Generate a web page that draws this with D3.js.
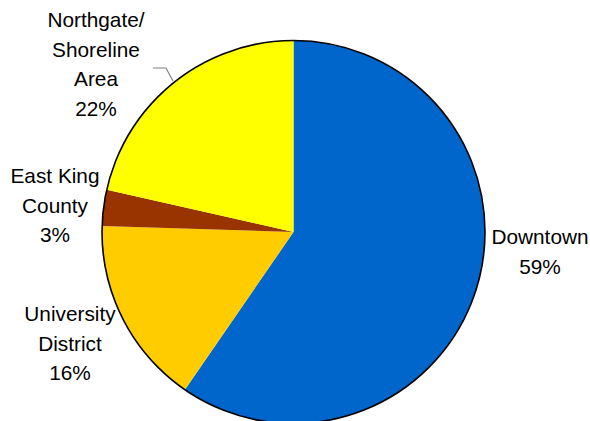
<!DOCTYPE html>
<html>
<head>
<meta charset="utf-8">
<script src="https://cdn.jsdelivr.net/npm/d3@7"></script>
<style>
  body { margin: 0; background: #fff; }
  svg { display: block; font-family: Arial, "Liberation Sans", sans-serif; }
</style>
</head>
<body>
<div id="chart"></div>
<script>
// data, clockwise from 12 o'clock
const areas = ["Downtown", "University District", "East King County", "Northgate/ Shoreline Area"];
const shares = [59.6, 15.9, 3.05, 21.45];
const pctLabels = ["59%", "16%", "3%", "22%"];
const colors = ["#0066CC", "#FFCC00", "#993300", "#FFFF00"];

// label lines (how the area names wrap)
const labelLines = [
    ["Downtown"],
    ["University", "District"],
    ["East King", "County"],
    ["Northgate/", "Shoreline", "Area"]
];
// where each label block is centred (x) and its first baseline (y)
const labelAt = [[540, 244], [70, 321], [55, 183], [96, 27]];

const W = 590, H = 421;
const cx = 293.5, cy = 232, R = 191.5;

const svg = d3.select('#chart').append('svg')
    .attr('width', W)
    .attr('height', H);

const pie = d3.pie().sort(null).value(d => d);
const arc = d3.arc().innerRadius(0).outerRadius(R);

const g = svg.append('g').attr('transform', 'translate(' + cx + ',' + cy + ')');

g.selectAll('path.slice')
    .data(pie(shares))
    .enter()
    .append('path')
    .attr('class', 'slice')
    .attr('fill', (d, i) => colors[i])
    .attr('d', arc);

// outer border only
g.append('circle')
    .attr('r', R)
    .attr('fill', 'none')
    .attr('stroke', '#000')
    .attr('stroke-width', 1.6);

// leader line for Northgate
svg.append('polyline')
    .attr('points', '153,68 166,68 173,81')
    .attr('fill', 'none')
    .attr('stroke', '#808080')
    .attr('stroke-width', 1.2);

// labels
labelLines.forEach((lines, i) => {
    const t = svg.append('text')
        .attr('text-anchor', 'middle')
        .attr('font-size', 20.8)
        .attr('fill', '#000');
    lines.concat([pctLabels[i]]).forEach((s, k) => {
        t.append('tspan')
            .attr('x', labelAt[i][0])
            .attr('y', labelAt[i][1] + k * 29.5)
            .text(s);
    });
});
</script>
</body>
</html>
